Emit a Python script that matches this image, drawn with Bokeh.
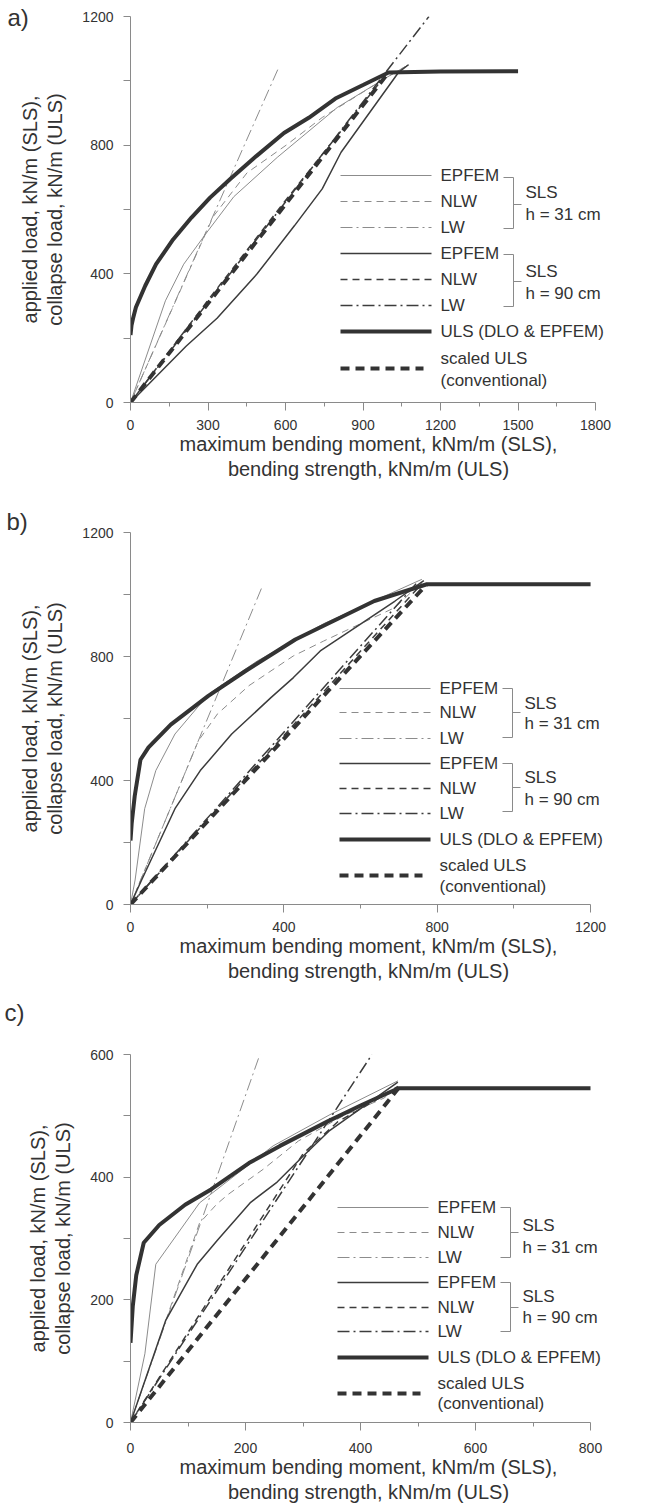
from bokeh.plotting import figure
from bokeh.models import Range1d, FixedTicker, Label, Arrow
from bokeh.layouts import column
from bokeh.embed import file_html
from bokeh.resources import INLINE

# ---------------- data: panel a ----------------
a_uls_x = [0, 4, 10, 21, 57, 99, 165, 236, 308, 385, 487, 594, 690, 793, 900, 999, 1200, 1500]
a_uls_y = [210, 240, 262, 296, 363, 430, 507, 575, 637, 694, 766, 838, 885, 945, 987, 1026, 1029, 1030]
a_conv_x = [0, 999]
a_conv_y = [0, 1026]
a_ep31_x = [0, 135, 206, 290, 400, 568, 800, 986, 1076]
a_ep31_y = [0, 316, 430, 523, 640, 762, 917, 1008, 1050]
a_nlw31_x = [0, 320, 451, 606, 742, 986, 1076]
a_nlw31_y = [0, 578, 714, 802, 886, 1008, 1050]
a_lw31_x = [0, 570]
a_lw31_y = [0, 1035]
a_ep90_x = [0, 215, 335, 490, 635, 742, 815, 1037, 1076]
a_ep90_y = [0, 175, 262, 400, 550, 664, 778, 1026, 1050]
a_nlw90_x = [0, 300, 600, 900, 1000]
a_nlw90_y = [0, 318, 628, 930, 1030]
a_lw90_x = [0, 1155]
a_lw90_y = [0, 1200]

# ---------------- data: panel b ----------------
b_uls_x = [0, 3, 11, 26, 47, 105, 203, 301, 430, 636, 773, 1200]
b_uls_y = [206, 260, 350, 467, 507, 580, 673, 754, 855, 979, 1033, 1033]
b_conv_x = [0, 773]
b_conv_y = [0, 1033]
b_ep31_x = [0, 12, 37, 66, 116, 205, 330, 504, 760]
b_ep31_y = [0, 79, 309, 432, 550, 680, 785, 906, 1049]
b_nlw31_x = [0, 177, 227, 309, 425, 504, 690, 760]
b_nlw31_y = [0, 528, 615, 706, 802, 850, 958, 1040]
b_lw31_x = [0, 345]
b_lw31_y = [0, 1030]
b_ep90_x = [0, 29, 116, 182, 264, 367, 425, 495, 690, 765]
b_ep90_y = [0, 79, 309, 432, 550, 668, 732, 818, 979, 1045]
b_nlw90_x = [0, 400, 760]
b_nlw90_y = [0, 545, 1035]
b_lw90_x = [0, 745]
b_lw90_y = [0, 1035]

# ---------------- data: panel c ----------------
c_uls_x = [0, 4, 10, 23, 50, 95, 140, 206, 260, 343, 403, 466, 800]
c_uls_y = [130, 190, 240, 293, 322, 355, 380, 423, 451, 491, 518, 545, 545]
c_conv_x = [0, 466]
c_conv_y = [0, 545]
c_ep31_x = [0, 25, 44, 120, 248, 347, 465]
c_ep31_y = [0, 112, 258, 358, 451, 502, 557]
c_nlw31_x = [0, 120, 150, 170, 231, 292, 370, 441, 465]
c_nlw31_y = [0, 325, 356, 372, 413, 459, 500, 529, 548]
c_lw31_x = [0, 225]
c_lw31_y = [0, 600]
c_ep90_x = [0, 61, 116, 150, 209, 255, 300, 345, 465]
c_ep90_y = [0, 166, 258, 296, 359, 392, 434, 475, 555]
c_nlw90_x = [0, 150, 300, 360, 420, 465]
c_nlw90_y = [0, 220, 438, 490, 522, 548]
c_lw90_x = [0, 420]
c_lw90_y = [0, 600]

legend_names = ["EPFEM", "NLW", "LW", "EPFEM", "NLW", "LW", "ULS (DLO & EPFEM)"]
conv_names = ["scaled ULS", "(conventional)"]
group_names = [("SLS", "h = 31 cm"), ("SLS", "h = 90 cm")]

FONT = "Liberation Sans"
GRAY = "#8c8c8c"
DARK = "#3c3c3c"
TXT = "#333333"
AX = "#8a8a8a"
LEG_PX = "17px"

STYLES = [
    dict(color=GRAY, width=1.0, dash="solid"),      # EPFEM 31
    dict(color=GRAY, width=1.0, dash="7 5"),        # NLW 31
    dict(color=GRAY, width=1.0, dash="12 4 2 4"),   # LW 31
    dict(color=DARK, width=1.5, dash="solid"),      # EPFEM 90
    dict(color=DARK, width=1.5, dash="7 5"),        # NLW 90
    dict(color=DARK, width=1.5, dash="12 4 2 4"),   # LW 90
    dict(color="#333333", width=4.0, dash="solid"),  # ULS
    dict(color="#333333", width=4.0, dash="9 6"),    # scaled ULS
]

FRAME_RIGHT = 606


def make_panel(letter_text, letter_cfg, fig_top, fig_bot, fr_top, fr_bot, fr_left, ax_right,
               xmax, ymax, xmaj, xmin, ymaj, ymin, series, leg, tick_standoff=9):
    h = fig_bot - fig_top
    xend = xmax * (FRAME_RIGHT - fr_left) / (ax_right - fr_left)
    p = figure(width=661, height=h, x_range=Range1d(0, xend), y_range=Range1d(0, ymax),
               output_backend="svg", toolbar_location=None,
               min_border_left=fr_left, min_border_right=661 - FRAME_RIGHT,
               min_border_top=fr_top - fig_top, min_border_bottom=fig_bot - fr_bot)
    p.outline_line_color = None
    p.grid.visible = False
    p.background_fill_color = "white"
    p.border_fill_color = "white"

    # panel letter as title
    p.title.text = letter_text
    p.title.align = "left"
    p.title.offset = 4 - fr_left
    p.title.text_font = FONT
    p.title.text_font_size = "24px"
    p.title.text_font_style = "normal"
    p.title.text_color = TXT
    p.title.text_line_height = 1.2
    p.title.vertical_align = letter_cfg[0]
    p.title.standoff = letter_cfg[1]

    for ax in (p.xaxis, p.yaxis):
        ax.axis_line_color = AX
        ax.major_tick_line_color = AX
        ax.minor_tick_line_color = AX
        ax.major_tick_in = 0
        ax.minor_tick_in = 0
        ax.major_label_text_font = FONT
        ax.major_label_text_font_size = "14px"
        ax.major_label_text_color = TXT
        ax.axis_label_text_font = FONT
        ax.axis_label_text_font_size = "20px"
        ax.axis_label_text_font_style = "normal"
        ax.axis_label_text_color = TXT
        ax.axis_label_text_line_height = 1.15
    p.xaxis.bounds = (0, xmax)
    p.xaxis.ticker = FixedTicker(ticks=xmaj, minor_ticks=xmin)
    p.yaxis.ticker = FixedTicker(ticks=ymaj, minor_ticks=ymin)
    p.xaxis.major_tick_out = 8
    p.xaxis.minor_tick_out = 4
    p.yaxis.major_tick_out = 7
    p.yaxis.minor_tick_out = 7
    p.xaxis.major_label_standoff = tick_standoff
    p.xaxis.axis_label_standoff = 0
    p.yaxis.major_label_standoff = 10
    p.yaxis.axis_label_standoff = 13
    p.xaxis.axis_label = "maximum bending moment, kNm/m (SLS),\nbending strength, kNm/m (ULS)"
    p.yaxis.axis_label = "applied load, kN/m (SLS),\ncollapse load, kN/m (ULS)"

    for (xs, ys), st in zip(series, STYLES):
        p.line(xs, ys, line_color=st["color"], line_width=st["width"], line_dash=st["dash"])

    def sx(px):
        return px - fr_left

    def sy(py):
        return fr_bot - py

    def seg(x0, y0, x1, y1, st):
        p.add_layout(Arrow(x_start=sx(x0), y_start=sy(y0), x_end=sx(x1), y_end=sy(y1),
                           start_units="screen", end_units="screen", start=None, end=None,
                           line_color=st["color"], line_width=st["width"], line_dash=st["dash"]))

    def text(x, y, t, size=LEG_PX):
        p.add_layout(Label(x=sx(x), y=sy(y), x_units="screen", y_units="screen", text=t,
                           text_font=FONT, text_font_size=size, text_color=TXT,
                           text_baseline="middle", text_align="left"))

    lx0, lx1, tx = leg["lx0"], leg["lx1"], leg["tx"]
    for ry, name, st in zip(leg["rows"], legend_names, STYLES[:7]):
        seg(lx0, ry, lx1, ry, st)
        text(tx, ry, name)
    seg(lx0, leg["conv_line"], lx1 - 8, leg["conv_line"], STYLES[7])
    text(tx, leg["conv_t1"], conv_names[0])
    text(tx, leg["conv_t2"], conv_names[1])

    brk = dict(color=AX, width=1.0, dash="solid")
    for b, (g1, g2) in zip(leg["brackets"], group_names):
        vx, y0, y1, hx0, ym, tx1, gx, gy1, gy2 = b
        seg(vx, y0, vx, y1, brk)
        seg(hx0, y0, vx, y0, brk)
        seg(hx0, y1, vx, y1, brk)
        seg(vx, ym, tx1, ym, brk)
        text(gx, gy1, g1)
        text(gx, gy2, g2)
    return p


LX0, LX1, TX = 337, 428, 437

pa = make_panel("a)", ("bottom", -28), 0, 502, 16, 402, 127, 595, 1800, 1200,
                [0, 300, 600, 900, 1200, 1500, 1800], [150, 450, 750, 1050, 1350, 1650],
                [0, 400, 800, 1200], [200, 600, 1000],
                [(a_ep31_x, a_ep31_y), (a_nlw31_x, a_nlw31_y), (a_lw31_x, a_lw31_y),
                 (a_ep90_x, a_ep90_y), (a_nlw90_x, a_nlw90_y), (a_lw90_x, a_lw90_y),
                 (a_uls_x, a_uls_y), (a_conv_x, a_conv_y)],
                dict(lx0=LX0, lx1=LX1, tx=TX, rows=[175, 201, 227, 253, 279, 305, 331],
                     conv_line=368, conv_t1=358, conv_t2=380,
                     brackets=[(510, 177, 228, 500, 204, 518, 522, 192, 214),
                               (510, 254, 306, 500, 281, 518, 522, 271, 293)]))

pb = make_panel("b)", ("bottom", -4), 502, 1000, 532, 904, 128, 590, 1200, 1200,
                [0, 400, 800, 1200], [200, 600, 1000],
                [0, 400, 800, 1200], [200, 600, 1000],
                [(b_ep31_x, b_ep31_y), (b_nlw31_x, b_nlw31_y), (b_lw31_x, b_lw31_y),
                 (b_ep90_x, b_ep90_y), (b_nlw90_x, b_nlw90_y), (b_lw90_x, b_lw90_y),
                 (b_uls_x, b_uls_y), (b_conv_x, b_conv_y)],
                dict(lx0=LX0, lx1=LX1, tx=TX, rows=[688, 712, 738, 763, 788, 813, 839],
                     conv_line=875, conv_t1=865, conv_t2=886,
                     brackets=[(510, 688, 737, 500, 712, 518, 522, 703, 723),
                               (510, 763, 811, 500, 787, 518, 522, 777, 799)]))

pc = make_panel("c)\n ", ("bottom", -7), 1000, 1508, 1053, 1422, 130, 590, 800, 600,
                [0, 200, 400, 600, 800], [100, 300, 500, 700],
                [0, 200, 400, 600], [100, 300, 500],
                [(c_ep31_x, c_ep31_y), (c_nlw31_x, c_nlw31_y), (c_lw31_x, c_lw31_y),
                 (c_ep90_x, c_ep90_y), (c_nlw90_x, c_nlw90_y), (c_lw90_x, c_lw90_y),
                 (c_uls_x, c_uls_y), (c_conv_x, c_conv_y)],
                dict(lx0=LX0, lx1=LX1, tx=TX, rows=[1207, 1232, 1257, 1282, 1307, 1331, 1357],
                     conv_line=1393, conv_t1=1383, conv_t2=1403,
                     brackets=[(510, 1207, 1257, 500, 1232, 518, 522, 1225, 1247),
                               (510, 1282, 1331, 500, 1307, 518, 522, 1296, 1317)]),
                tick_standoff=12)

layout = column(pa, pb, pc, spacing=0)
open("out.html", "w").write(file_html(layout, INLINE))
